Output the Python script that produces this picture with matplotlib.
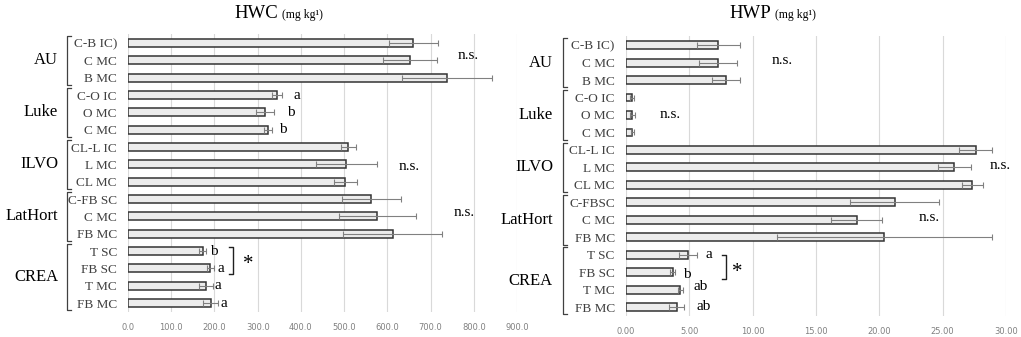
import matplotlib
matplotlib.use('Agg')
from matplotlib import pyplot as plt
from matplotlib import transforms

groups = ['AU', 'Luke', 'ILVO', 'LatHort', 'CREA']
group_sizes = [3, 3, 3, 3, 4]

labels_hwc = ['C-B IC)', 'C MC', 'B MC', 'C-O IC', 'O MC', 'C MC', 'CL-L IC', 'L MC', 'CL MC',
              'C-FB SC', 'C MC', 'FB MC', 'T SC', 'FB SC', 'T MC', 'FB MC']
labels_hwp = ['C-B IC)', 'C MC', 'B MC', 'C-O IC', 'O MC', 'C MC', 'CL-L IC', 'L MC', 'CL MC',
              'C-FBSC', 'C MC', 'FB MC', 'T SC', 'FB SC', 'T MC', 'FB MC']

hwc = [660, 652, 738, 345, 317, 324, 510, 505, 503, 563, 577, 612, 173, 190, 181, 191]
hwc_err = [57, 62, 105, 12, 21, 9, 17, 70, 27, 68, 90, 115, 8, 8, 16, 17]

hwp = [7.3, 7.3, 7.9, 0.5, 0.5, 0.5, 27.6, 25.9, 27.35, 21.2, 18.2, 20.4, 4.9, 3.7, 4.3, 4.0]
hwp_err = [1.7, 1.5, 1.1, 0.15, 0.2, 0.1, 1.3, 1.3, 0.85, 3.5, 2.0, 8.5, 0.7, 0.2, 0.2, 0.6]

hwc_ticks = [0, 100, 200, 300, 400, 500, 600, 700, 800, 900]
hwp_ticks = [0, 5, 10, 15, 20, 25, 30]

SERIF = 'Liberation Serif'


def draw_panel(fig, rect, values, errs, labels, ticks, fmt, title, title_x, bracket_x, group_x):
    ax = fig.add_axes(rect)
    y = list(range(len(values)))
    ax.barh(y, values, height=0.45, color='#ececec', edgecolor='#333333', linewidth=1.1, zorder=3)
    ax.errorbar(values, y, xerr=errs, fmt='none', ecolor='#808080', elinewidth=0.8,
                capsize=2.5, capthick=0.8, zorder=4)
    ax.set_xlim(ticks[0], ticks[-1])
    ax.set_ylim(len(values) - 0.5, -0.5)
    ax.set_xticks(ticks)
    ax.set_xticklabels([fmt.format(t) for t in ticks], fontsize=6, color='#808080')
    ax.set_yticks(y)
    ax.set_yticklabels(labels, fontsize=9.5, family=SERIF, color='#404040')
    ax.tick_params(axis='both', length=0)
    ax.tick_params(axis='x', pad=8)
    ax.tick_params(axis='y', pad=8)
    ax.grid(axis='x', color='#d9d9d9', linewidth=0.8, zorder=0)
    for s in ax.spines.values():
        s.set_visible(False)

    # group brackets on the left
    tr = transforms.blended_transform_factory(fig.transFigure, ax.transData)
    start = 0
    for g, n in zip(groups, group_sizes):
        y0, y1 = start - 0.42, start + n - 1 + 0.42
        ax.plot([bracket_x + 0.004, bracket_x, bracket_x, bracket_x + 0.004], [y0, y0, y1, y1],
                color='#404040', linewidth=0.9, transform=tr, clip_on=False)
        fig.text(group_x, (start + (n - 1) / 2), g, transform=tr, ha='right', va='center',
                 family=SERIF, fontsize=12)
        start += n

    fig.text(title_x, 0.947, title, ha='right', va='baseline', family=SERIF, fontsize=13.5)
    fig.text(title_x + 0.004, 0.947, '(mg kg\u00b9)', ha='left', va='baseline', family=SERIF, fontsize=8.5)
    return ax


def bracket(ax, x, y0, y1, w):
    ax.plot([x - w, x, x, x - w], [y0, y0, y1, y1], color='#202020', linewidth=1.0, clip_on=False)


fig = plt.figure(figsize=(10.21, 3.37), dpi=100)

ax1 = draw_panel(fig, [0.1254, 0.075, 0.381, 0.823], hwc, hwc_err, labels_hwc, hwc_ticks, '{:.1f}',
                 'HWC', 0.272, 0.0656, 0.057)
ax2 = draw_panel(fig, [0.6131, 0.063, 0.3722, 0.829], hwp, hwp_err, labels_hwp, hwp_ticks, '{:.2f}',
                 'HWP', 0.755, 0.5514, 0.5416)

fs = 11
# left panel annotations
for txt, x, yy, ha in [('n.s.', 787, 0.7, 'center'), ('a', 382, 3, 'left'), ('b', 368, 4, 'left'),
                       ('b', 349, 5, 'left'), ('n.s.', 650, 7.1, 'center'), ('n.s.', 777, 9.8, 'center'),
                       ('b', 190, 12, 'left'), ('a', 208, 13, 'left'), ('a', 201, 14, 'left'),
                       ('a', 213, 15, 'left')]:
    ax1.text(x, yy, txt, ha=ha, va='center', family=SERIF, fontsize=fs, clip_on=False)
ax1.text(278, 12.75, '*', ha='center', va='center', family=SERIF, fontsize=15, clip_on=False)
bracket(ax1, 243, 11.75, 13.35, 9)

# right panel annotations
for txt, x, yy, ha in [('n.s.', 12.3, 0.86, 'center'), ('n.s.', 3.5, 4.0, 'center'),
                       ('n.s.', 29.5, 6.87, 'center'), ('n.s.', 23.9, 9.9, 'center'),
                       ('a', 6.3, 12.0, 'left'), ('b', 4.5, 13.15, 'left'), ('ab', 5.3, 13.85, 'left'),
                       ('ab', 5.6, 14.95, 'left')]:
    ax2.text(x, yy, txt, ha=ha, va='center', family=SERIF, fontsize=fs, clip_on=False)
ax2.text(8.8, 13.05, '*', ha='center', va='center', family=SERIF, fontsize=15, clip_on=False)
bracket(ax2, 7.9, 12.0, 13.4, 0.3)

fig.savefig('out.png', dpi=100)
